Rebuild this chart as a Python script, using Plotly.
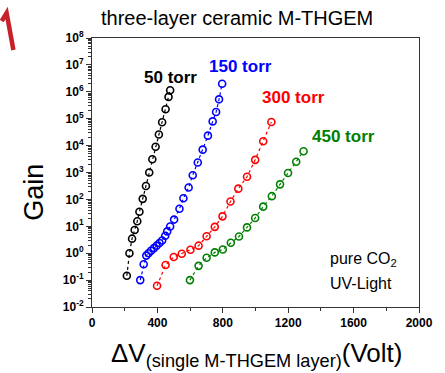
import plotly.graph_objects as go

# Gain vs. single-layer voltage, three-layer ceramic M-THGEM in pure CO2
v_50 = [213, 229, 245, 261, 277, 290, 310, 330, 350, 369, 389, 409, 429, 450, 468, 478]
logg_50 = [-0.84, 0.0, 0.54, 0.86, 1.19, 1.54, 2.02, 2.5, 3.0, 3.49, 3.96, 4.41, 4.87, 5.35, 5.81, 6.06]

v_150 = [295, 316, 332, 346, 361, 379, 395, 413, 429, 448, 460, 478, 502, 535, 559, 591,
         616, 647, 677, 709, 738, 759, 777, 796]
logg_150 = [-1.0, -0.41, -0.09, 0.0, 0.09, 0.19, 0.28, 0.38, 0.47, 0.65, 0.81, 0.99, 1.25,
            1.65, 2.04, 2.44, 2.9, 3.37, 3.85, 4.37, 4.9, 5.25, 5.72, 6.3]

v_300 = [398, 450, 500, 549, 602, 652, 701, 751, 798, 847, 895, 948, 998, 1047, 1097]
logg_300 = [-1.21, -0.44, -0.14, -0.02, 0.13, 0.28, 0.63, 0.98, 1.37, 1.92, 2.4, 2.84,
            3.47, 4.16, 4.88]

v_450 = [599, 652, 701, 751, 800, 849, 899, 948, 998, 1047, 1100, 1150, 1199, 1249, 1294]
logg_450 = [-1.0, -0.47, -0.17, 0.03, 0.14, 0.39, 0.62, 0.96, 1.31, 1.73, 2.12, 2.56,
            2.98, 3.4, 3.79]

series_names = ["50 torr", "150 torr", "300 torr", "450 torr"]
series_colors = ["#000000", "#0000ff", "#ff0000", "#008000"]
series_v = [v_50, v_150, v_300, v_450]
series_logg = [logg_50, logg_150, logg_300, logg_450]

# Decade ticks on the gain axis
y_exponents = list(range(-2, 9))
y_tickvals = [10.0 ** e for e in y_exponents]
y_ticktext = [f"10<sup>{e}</sup>" for e in y_exponents]

W, H = 445, 373
ML, MR, MT, MB = 92, 16, 38, 66
PW, PH = W - ML - MR, H - MT - MB


def px(x):
    return (x - ML) / PW


def py(y):
    return (H - MB - y) / PH


FONT = "Liberation Sans, Arial, sans-serif"

fig = go.Figure()
for name, color, v, lg in zip(series_names, series_colors, series_v, series_logg):
    fig.add_trace(go.Scatter(
        x=v, y=[10 ** g for g in lg], name=name, mode="lines+markers",
        line=dict(color=color, width=1.2, dash="dot"),
        marker=dict(symbol="circle-open", size=7, color=color, line=dict(width=1.6, color=color)),
        showlegend=False,
    ))

axis_common = dict(
    showgrid=False, zeroline=False, showline=True, linecolor="#333333", linewidth=1,
    mirror=True, ticks="outside", ticklen=5, tickwidth=1, tickcolor="#333333",
    tickfont=dict(family=FONT, size=12, color="#000000", weight="bold"),
)

fig.update_xaxes(range=[0, 2000], dtick=400, tick0=0,
                 minor=dict(ticks="outside", ticklen=3, dtick=200, tickcolor="#333333"),
                 **axis_common)
fig.update_yaxes(type="log", range=[-2, 8], tickmode="array",
                 tickvals=y_tickvals, ticktext=y_ticktext,
                 minor=dict(ticks="outside", ticklen=3, dtick="D1", tickcolor="#333333"),
                 **axis_common)

annotations = [
    dict(text="three-layer ceramic M-THGEM", x=px(241), y=py(18), size=20, color="#000000", weight="normal"),
    dict(text="50 torr", x=px(173), y=py(77), size=17, color=series_colors[0], weight="bold"),
    dict(text="150 torr", x=px(245), y=py(66), size=17, color=series_colors[1], weight="bold"),
    dict(text="300 torr", x=px(300), y=py(97), size=17, color=series_colors[2], weight="bold"),
    dict(text="450 torr", x=px(351), y=py(136), size=17, color=series_colors[3], weight="bold"),
]
for a in annotations:
    fig.add_annotation(
        text=a["text"], x=a["x"], y=a["y"], xref="paper", yref="paper",
        xanchor="center", yanchor="middle", showarrow=False,
        font=dict(family=FONT, size=a["size"], color=a["color"], weight=a["weight"]),
    )

# Gas and source notes
fig.add_annotation(text="pure CO<sub>2</sub>", x=px(335), y=py(259), xref="paper", yref="paper",
                   xanchor="left", yanchor="middle", showarrow=False,
                   font=dict(family=FONT, size=16, color="#000000"))
fig.add_annotation(text="UV-Light", x=px(335), y=py(283), xref="paper", yref="paper",
                   xanchor="left", yanchor="middle", showarrow=False,
                   font=dict(family=FONT, size=16, color="#000000"))

# Axis titles
fig.add_annotation(text="Gain", x=px(32), y=py(192), xref="paper", yref="paper",
                   xanchor="center", yanchor="middle", textangle=-90, showarrow=False,
                   font=dict(family=FONT, size=27, color="#000000"))
fig.add_annotation(text="\u0394V<sub>(single M-THGEM layer)</sub>(Volt)", x=px(262), y=py(354),
                   xref="paper", yref="paper", xanchor="center", yanchor="middle",
                   showarrow=False, font=dict(family=FONT, size=26, color="#000000"))

# Red brush stroke at the top-left corner
fig.add_shape(type="path", xref="paper", yref="paper",
              path=f"M {px(-1)},{py(21)} L {px(4)},{py(13)} L {px(11)},{py(50)}",
              line=dict(color="#c8202a", width=4.5))

fig.update_layout(
    width=W, height=H, margin=dict(l=ML, r=MR, t=MT, b=MB),
    paper_bgcolor="#ffffff", plot_bgcolor="#ffffff",
    font=dict(family=FONT),
)

fig.write_html("out.html")
